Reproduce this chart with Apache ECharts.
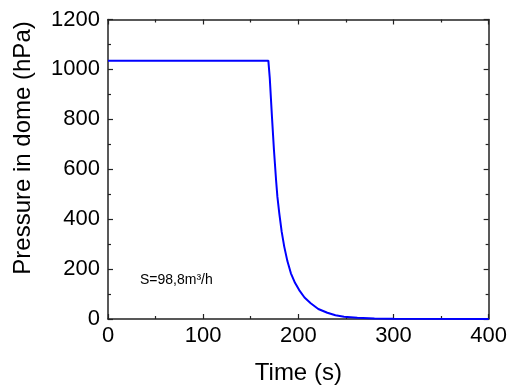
<!DOCTYPE html>
<html>
<head>
<meta charset="utf-8">
<script src="https://cdn.jsdelivr.net/npm/echarts@6/dist/echarts.min.js"></script>
<style>html,body{margin:0;padding:0;background:#fff;}#c{width:510px;height:390px;}</style>
</head>
<body>
<div id="c"></div>
<script>
var timeS = [0, 168.5, 170, 172.3, 174.4, 176.6, 178, 180, 182.5, 185.2, 188.5, 192.2, 196.5, 200.9, 206.5, 213, 221, 230.5, 239, 248, 262, 280, 300, 400];
var pressureHPa = [1035, 1035, 965, 810, 677, 557, 490, 423, 350, 290, 232, 183, 145, 116, 86, 63, 40, 25, 15, 9, 5, 2, 1, 0.5];
var xTicks = [0, 100, 200, 300, 400];
var yTicks = [0, 200, 400, 600, 800, 1000, 1200];
var annotation = 'S=98,8m³/h';

var FONT = 'Liberation Sans, Arial, sans-serif';
var seriesData = timeS.map(function (t, i) { return [t, pressureHPa[i]]; });

function baseAxis(extra) {
  var a = {
    type: 'value',
    axisLine: { show: true, onZero: false, lineStyle: { color: '#222', width: 1.5 } },
    axisTick: { show: true, inside: true, length: 5, lineStyle: { color: '#222', width: 1.2 } },
    minorTick: { show: true, splitNumber: 2, length: 3, lineStyle: { color: '#222', width: 1.2 } },
    splitLine: { show: false },
    minorSplitLine: { show: false }
  };
  for (var k in extra) a[k] = extra[k];
  return a;
}
function plain(v) { return String(v); }

var chart = echarts.init(document.getElementById('c'), null, { renderer: 'canvas' });
chart.setOption({
  animation: false,
  backgroundColor: '#fff',
  grid: { left: 108, right: 18.5, top: 19.5, bottom: 71, containLabel: false },
  xAxis: [
    baseAxis({
      position: 'bottom', min: xTicks[0], max: xTicks[xTicks.length - 1], interval: 100,
      name: 'Time (s)', nameLocation: 'middle', nameGap: 42,
      nameTextStyle: { fontFamily: FONT, fontSize: 24, color: '#000' },
      axisLabel: { fontFamily: FONT, fontSize: 22, color: '#000', margin: 6, formatter: plain }
    }),
    baseAxis({
      position: 'top', min: xTicks[0], max: xTicks[xTicks.length - 1], interval: 100,
      axisLabel: { show: false }
    })
  ],
  yAxis: [
    baseAxis({
      position: 'left', min: yTicks[0], max: yTicks[yTicks.length - 1], interval: 200,
      axisLabel: { fontFamily: FONT, fontSize: 22, color: '#000', margin: 8, formatter: plain }
    }),
    baseAxis({
      position: 'right', min: yTicks[0], max: yTicks[yTicks.length - 1], interval: 200,
      axisLabel: { show: false }
    })
  ],
  graphic: [
    {
      type: 'text', x: 23, y: 148, rotation: Math.PI / 2,
      style: { text: 'Pressure in dome (hPa)', fontFamily: FONT, fontSize: 24, fill: '#000', textAlign: 'center', textVerticalAlign: 'middle' }
    },
    {
      type: 'text', x: 140, y: 280,
      style: { text: annotation, fontFamily: FONT, fontSize: 14, fill: '#000', textAlign: 'left', textVerticalAlign: 'middle' }
    }
  ],
  series: [{
    type: 'line',
    data: seriesData,
    showSymbol: false,
    smooth: false,
    lineStyle: { color: '#0000ff', width: 2 },
    itemStyle: { color: '#0000ff' }
  }]
});
</script>
</body>
</html>
